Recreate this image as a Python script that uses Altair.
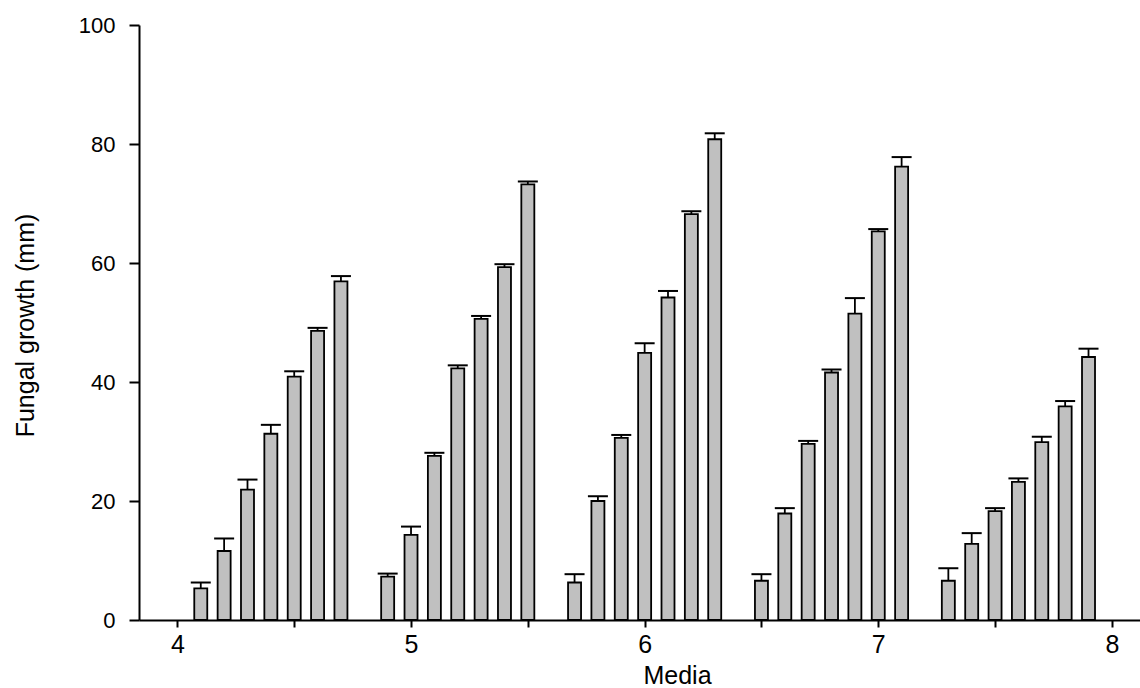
import altair as alt
import pandas as pd

# Bar positions on the Media axis, one list per group of seven
positions = [
    [4.1, 4.2, 4.3, 4.4, 4.5, 4.6, 4.7],
    [4.9, 5.0, 5.1, 5.2, 5.3, 5.4, 5.5],
    [5.7, 5.8, 5.9, 6.0, 6.1, 6.2, 6.3],
    [6.5, 6.6, 6.7, 6.8, 6.9, 7.0, 7.1],
    [7.3, 7.4, 7.5, 7.6, 7.7, 7.8, 7.9],
]

# Mean fungal growth (mm)
growth = [
    [5.3, 11.6, 21.9, 31.3, 40.9, 48.6, 56.9],
    [7.3, 14.3, 27.6, 42.3, 50.6, 59.3, 73.2],
    [6.3, 20.0, 30.6, 44.9, 54.2, 68.2, 80.8],
    [6.6, 17.9, 29.6, 41.6, 51.5, 65.3, 76.2],
    [6.6, 12.8, 18.3, 23.2, 29.9, 35.9, 44.2],
]

# Upper error (mm)
errors = [
    [1.0, 2.1, 1.7, 1.5, 0.9, 0.5, 0.9],
    [0.5, 1.4, 0.5, 0.5, 0.5, 0.5, 0.5],
    [1.4, 0.8, 0.5, 1.6, 1.1, 0.5, 1.0],
    [1.1, 0.9, 0.5, 0.5, 2.6, 0.4, 1.6],
    [2.1, 1.8, 0.5, 0.6, 0.9, 0.9, 1.4],
]

x_ticks = [4, 4.5, 5, 5.5, 6, 6.5, 7, 7.5, 8]
y_ticks = [0, 20, 40, 60, 80, 100]

rows = []
for xs, vs, es in zip(positions, growth, errors):
    for x, v, e in zip(xs, vs, es):
        rows.append({"x": x, "value": v, "top": v + e})
df = pd.DataFrame(rows)

FONT = "Liberation Sans"

x_scale = alt.Scale(domain=[3.857, 8.099], nice=False, zero=False)
y_scale = alt.Scale(domain=[0, 100], nice=False)

x_axis = alt.Axis(
    title="Media",
    values=x_ticks,
    labelExpr="datum.value % 1 === 0 ? format(datum.value, 'd') : ''",
    tickSize=7,
    labelPadding=5,
    labelFontSize=25,
    labelFlush=False,
    labelOverlap=False,
    titleFontSize=25,
    titleFontWeight="normal",
    titleBaseline="alphabetic",
    titleX=538,
    titleY=63,
    grid=False,
)
y_axis = alt.Axis(
    title="Fungal growth (mm)",
    values=y_ticks,
    format="d",
    tickSize=10,
    labelPadding=14,
    labelFontSize=22,
    labelFlush=False,
    labelOverlap=False,
    titleFontSize=25,
    titleFontWeight="normal",
    titleBaseline="alphabetic",
    titleAngle=270,
    titleX=-106,
    titleY=300,
    grid=False,
)

base = alt.Chart(df)

bars = base.mark_bar(
    size=13, fill="#c0c0c0", stroke="black", strokeWidth=1.8, opacity=1
).encode(
    x=alt.X("x:Q", scale=x_scale, axis=x_axis),
    y=alt.Y("value:Q", scale=y_scale, axis=y_axis),
)

stems = base.mark_rule(color="black", strokeWidth=1.8, opacity=1).encode(
    x=alt.X("x:Q", scale=x_scale),
    y=alt.Y("value:Q", scale=y_scale),
    y2="top:Q",
)

caps = base.mark_tick(
    orient="horizontal", size=20, thickness=2, color="black", opacity=1
).encode(
    x=alt.X("x:Q", scale=x_scale),
    y=alt.Y("top:Q", scale=y_scale),
)

chart = (
    alt.layer(bars, stems, caps)
    .properties(
        width=1001,
        height=595,
        padding={"left": 139, "top": 25, "right": 0, "bottom": 68},
        autosize=alt.AutoSizeParams(type="none"),
        background="white",
    )
    .configure_view(stroke=None)
    .configure_axis(
        domainColor="black",
        domainWidth=2,
        tickColor="black",
        tickWidth=2,
        labelColor="black",
        titleColor="black",
        labelFont=FONT,
        titleFont=FONT,
    )
)

chart.save("out.html", embed_options={"renderer": "svg", "actions": False})
